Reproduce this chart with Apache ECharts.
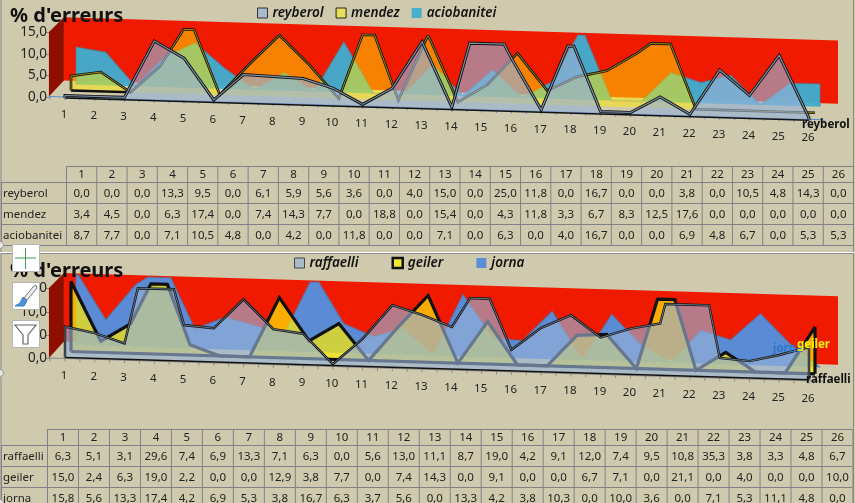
<!DOCTYPE html>
<html><head><meta charset="utf-8">
<style>html,body{margin:0;padding:0;background:#CFCAAD;overflow:hidden}#c{width:855px;height:503px}</style>
<script src="https://cdn.jsdelivr.net/npm/echarts@6/dist/echarts.min.js"></script>
</head><body><div id="c"></div>
<script>
const categories = [1,2,3,4,5,6,7,8,9,10,11,12,13,14,15,16,17,18,19,20,21,22,23,24,25,26];
const reyberol = [0,0,0,13.3,9.5,0,6.1,5.9,5.6,3.6,0,4,15,0,25,11.8,0,16.7,0,0,3.8,0,10.5,4.8,14.3,0];
const mendez = [3.4,4.5,0,6.3,17.4,0,7.4,14.3,7.7,0,18.8,0,15.4,0,4.3,11.8,3.3,6.7,8.3,12.5,17.6,0,0,0,0,0];
const aciobanitei = [8.7,7.7,0,7.1,10.5,4.8,0,4.2,0,11.8,0,0,7.1,0,6.3,0,4,16.7,0,0,6.9,4.8,6.7,0,5.3,5.3];
const raffaelli = [6.3,5.1,3.1,29.6,7.4,6.9,13.3,7.1,6.3,0,5.6,13,11.1,8.7,19,4.2,9.1,12,7.4,9.5,10.8,35.3,3.8,3.3,4.8,6.7];
const geiler = [15,2.4,6.3,19,2.2,0,0,12.9,3.8,7.7,0,7.4,14.3,0,9.1,0,0,6.7,7.1,0,21.1,0,4,0,0,10];
const jorna = [15.8,5.6,13.3,17.4,4.2,6.9,5.3,3.8,16.7,6.3,3.7,5.6,0,13.3,4.2,3.8,10.3,0,10,3.6,0,7.1,5.3,11.1,4.8,0];
const yTicks = [0,5,10,15];
const axisMax = 15;
const SLOPE = 0.03, X0 = 65, STEP = 29.76;
const FONT = '"Noto Sans"';
const fmt = v => v.toFixed(1).replace('.', ',');
const bg = '#CFCAAD';

// projection of the flat cartesian coordinates on the slanted 3D-looking plane
function proj(api, cat, v, d) {
  const p = api.coord([cat, v]);
  return [p[0] + d[0], p[1] + SLOPE * (p[0] - X0) + d[1]];
}
function clipped(values) {
  const out = [];
  values.forEach((v, i) => {
    const c = categories[i];
    if (i > 0) {
      const u = values[i - 1];
      if ((u - axisMax) * (v - axisMax) < 0) out.push([c - 1 + (axisMax - u) / (v - u), axisMax]);
    }
    out.push([c, Math.min(v, axisMax)]);
  });
  return out;
}
function areaSeries(name, values, g, st) {
  return {
    type: 'custom', name, xAxisIndex: g, yAxisIndex: g, silent: true, clip: false, animation: false,
    itemStyle: { color: st.swatch },
    encode: { x: 0, y: 1 },
    data: values.map((v, i) => [categories[i], v]),
    renderItem(params, api) {
      if (params.dataIndex !== 0) return null;
      const d = st.depth, lip = st.lip || 0;
      const prof = clipped(values).map(q => proj(api, q[0], q[1], d));
      const first = categories[0], last = categories[categories.length - 1];
      const a = proj(api, first, 0, [d[0], d[1] + lip]), b = proj(api, last, 0, [d[0], d[1] + lip]);
      const kids = [{ type: 'polygon', shape: { points: [a].concat(prof, [b]) }, style: { fill: st.fill, stroke: null } }];
      const outline = [a].concat(prof, [b]);
      const bases = [];
      if (st.base) bases.push([proj(api, st.base[0], 0, [d[0], d[1] + lip]), proj(api, st.base[1], 0, [d[0], d[1] + lip])]);
      st.lines.forEach(l => {
        kids.push({ type: 'polyline', shape: { points: outline }, style: { fill: null, stroke: l.c, lineWidth: l.w, lineJoin: 'miter', miterLimit: 3 } });
        bases.forEach(bp => kids.push({ type: 'polyline', shape: { points: bp }, style: { fill: null, stroke: l.c, lineWidth: l.bw || l.w, lineJoin: 'miter' } }));
      });
      return { type: 'group', children: kids };
    }
  };
}
function wallSeries(g, depth) {
  return {
    type: 'custom', xAxisIndex: g, yAxisIndex: g, silent: true, clip: false, animation: false, encode: { x: 0, y: 1 },
    data: [[categories[0], 0]],
    renderItem(params, api) {
      const L = 0.46, R = 26.47, top = 14.7;
      const f = [0, 0];
      return { type: 'group', children: [
        { type: 'polygon', shape: { points: [proj(api, L, 0, f), proj(api, L, axisMax, f), proj(api, L, top, depth), proj(api, L, 0, depth)] }, style: { fill: '#8E0F00' } },
        { type: 'polygon', shape: { points: [proj(api, L, 0, depth), proj(api, L, top, depth), proj(api, R, top, depth), proj(api, R, 0, depth)] }, style: { fill: '#EF1A00' } }
      ] };
    }
  };
}
function axisSeries(g, color, labelDy) {
  return {
    type: 'custom', xAxisIndex: g, yAxisIndex: g, silent: true, clip: false, animation: false, encode: { x: 0, y: 1 },
    data: categories.map(c => [c, 0]),
    renderItem(params, api) {
      const c = api.value(0), p = proj(api, c, 0, [0, 0]);
      const f = [0, 0], kids = [];
      if (params.dataIndex === 0) kids.push({ type: 'line', shape: { x1: proj(api, 0.46, 0, f)[0], y1: proj(api, 0.46, 0, f)[1], x2: proj(api, 26.47, 0, f)[0], y2: proj(api, 26.47, 0, f)[1] }, style: { stroke: color, lineWidth: 1.2 } });
      [c - 0.5, c].concat(c === categories[categories.length - 1] ? [c + 0.5] : []).forEach(t => {
        const q = proj(api, t, 0, f);
        kids.push({ type: 'line', shape: { x1: q[0], y1: q[1], x2: q[0], y2: q[1] + 3 }, style: { stroke: color, lineWidth: 1 } });
      });
      kids.push({ type: 'text', x: p[0] - 1, y: p[1] + labelDy, style: { text: String(categories[params.dataIndex]), fill: '#222', font: '11.5px ' + FONT, textAlign: 'center', textVerticalAlign: 'middle' } });
      return { type: 'group', children: kids };
    }
  };
}
const reyFill = 'rgba(150,177,215,0.64)';
const series = [
  wallSeries(0, [15, -16]),
  axisSeries(0, '#5B8CCB', 18),
  areaSeries('aciobanitei', aciobanitei, 0, { depth: [11, -12.5], fill: 'rgba(66,172,204,0.97)', swatch: '#48AFCC', lines: [{ c: 'rgba(70,130,160,0.5)', w: 1.5 }] }),
  areaSeries('mendez', mendez, 0, { depth: [6, -6.5], fill: 'rgba(255,232,0,0.5)', swatch: '#E9DF5B', base: [1, 3], lines: [{ c: '#111', w: 2.6 }, { c: '#B8A818', w: 0.8, bw: 0.01 }] }),
  areaSeries('reyberol', reyberol, 0, { depth: [0, -1.5], lip: 2.5, fill: reyFill, swatch: '#A9BACB', base: [1, 26], lines: [{ c: '#111', w: 3, bw: 1.4 }, { c: '#7C8FA3', w: 1.2, bw: 0.01 }] }),
  wallSeries(1, [15, -16.5]),
  axisSeries(1, '#8A8A8A', 17.5),
  areaSeries('jorna', jorna, 1, { depth: [11, -13.5], fill: 'rgba(88,142,216,0.98)', swatch: '#5A8FD8', lines: [{ c: 'rgba(80,120,170,0.6)', w: 1.5 }] }),
  areaSeries('geiler', geiler, 1, { depth: [6, -7], fill: 'rgba(255,235,0,0.7)', swatch: '#F0E830', base: [1, 26], lines: [{ c: '#111', w: 3.2 }] }),
  areaSeries('raffaelli', raffaelli, 1, { depth: [0, -2.5], lip: 1.5, fill: reyFill, swatch: '#A9BACB', base: [1, 26], lines: [{ c: '#111', w: 2.4, bw: 1.4 }, { c: '#7C8FA3', w: 0.8, bw: 0.01 }] })
];
function xAxis(g) { return { type: 'value', gridIndex: g, min: categories[0], max: categories[categories.length - 1], show: false }; }
function yAxis(g) {
  return { type: 'value', gridIndex: g, min: yTicks[0], max: axisMax, interval: 5, position: 'left', offset: 16,
    axisLine: { show: true, lineStyle: { color: '#8A8A8A' } }, axisTick: { show: true, length: 3, lineStyle: { color: '#8A8A8A' } },
    splitLine: { show: false },
    axisLabel: { formatter: fmt, color: '#222', fontSize: 13.5, fontFamily: FONT, margin: 2, padding: [2, 0, 0, 0], showMinLabel: true, showMaxLabel: true } };
}
function tableEls(rows, top, xs, ys, fs) {
  const els = [], line = '#808088';
  const L = (x1, y1, x2, y2) => els.push({ type: 'line', shape: { x1, y1, x2, y2 }, style: { stroke: line, lineWidth: 1 }, silent: true });
  const T = (s, x, y, al) => els.push({ type: 'text', x, y, silent: true, style: { text: s, fill: '#222', font: fs + 'px ' + FONT, textAlign: al || 'center', textVerticalAlign: 'middle' } });
  const colX = i => xs[0] + i * xs[1];
  const rowY = [ys[0], ys[1], ys[1] + ys[2], ys[1] + 2 * ys[2], ys[1] + 3 * ys[2]];
  for (let i = 0; i <= 26; i++) L(colX(i) + .5, rowY[0], colX(i) + .5, rowY[4]);
  L(1.5, rowY[1], 1.5, rowY[4]);
  L(colX(0), rowY[0] + .5, colX(26), rowY[0] + .5);
  for (let r = 1; r <= 4; r++) L(1, rowY[r] + .5, colX(26), rowY[r] + .5);
  categories.forEach((c, i) => T(String(c), colX(i) + xs[1] / 2 + .5, (rowY[0] + rowY[1]) / 2 + 1));
  rows.forEach((r, k) => {
    const y = (rowY[k + 1] + rowY[k + 2]) / 2 + 1;
    T(r[0], 3, y, 'left');
    r[1].forEach((v, i) => T(fmt(v), colX(i) + xs[1] / 2 + .5, y));
  });
  return els;
}
function iconBox(y, h) { return { type: 'rect', z: 100, shape: { x: 12.5, y: y + .5, width: 27, height: h }, style: { fill: '#fff', stroke: '#B5B5B5', lineWidth: 1 } }; }
const icons = [
  iconBox(244, 27), iconBox(282, 27), iconBox(320, 27),
  { type: 'line', z: 101, shape: { x1: 15, y1: 258, x2: 36, y2: 258 }, style: { stroke: '#3C9A55', lineWidth: 1 } },
  { type: 'line', z: 101, shape: { x1: 25.5, y1: 248, x2: 25.5, y2: 269 }, style: { stroke: '#3C9A55', lineWidth: 1 } },
  { type: 'polygon', z: 101, shape: { points: [[33, 287], [36, 285], [37, 288], [27, 300], [24, 298]] }, style: { fill: '#EDEDED', stroke: '#777', lineWidth: 1 } },
  { type: 'polygon', z: 101, shape: { points: [[23, 297], [27, 301], [24, 306], [15, 306], [20, 303]] }, style: { fill: '#4C94D8', stroke: '#3B7CC0', lineWidth: 1 } },
  { type: 'polygon', z: 101, shape: { points: [[15, 325], [36, 325], [28, 335], [28, 344], [23, 344], [23, 335]] }, style: { fill: '#fff', stroke: '#666', lineWidth: 1.2 } }
];
const ring = (x, y) => ({ type: 'circle', z: 100, shape: { cx: x, cy: y, r: 3.5 }, style: { fill: '#E8E8E8', stroke: '#999', lineWidth: 1 } });
const endLabel = (s, x, y, c) => ({ type: 'text', z: 50, x, y, silent: true, style: { text: s, fill: c, font: 'bold 11.5px ' + FONT, textAlign: 'left', textVerticalAlign: 'middle' } });
const frame = [
  { type: 'line', shape: { x1: 1, y1: 0, x2: 1, y2: 252 }, style: { stroke: '#8A8A8A', lineWidth: 1 } },
  { type: 'line', shape: { x1: 853.5, y1: 0, x2: 853.5, y2: 503 }, style: { stroke: '#8A8A8A', lineWidth: 1 } },
  { type: 'line', shape: { x1: 0, y1: 252.5, x2: 855, y2: 252.5 }, style: { stroke: '#FFFFFF', lineWidth: 1 } },
  { type: 'line', shape: { x1: 1, y1: 253.5, x2: 854, y2: 253.5 }, style: { stroke: '#8A8A8A', lineWidth: 1 } },
  { type: 'line', shape: { x1: 1, y1: 254, x2: 1, y2: 503 }, style: { stroke: '#8A8A8A', lineWidth: 1 } }
];
const legendText = { fontFamily: FONT, fontStyle: 'italic', fontWeight: 600, fontSize: 13.5, color: '#111' };
const option = {
  backgroundColor: bg, animation: false,
  title: [
    { text: "% d'erreurs", left: 5, top: 1, textStyle: { fontFamily: FONT, fontWeight: 'bold', fontSize: 20, color: '#111' } },
    { text: "% d'erreurs", left: 5, top: 256, textStyle: { fontFamily: FONT, fontWeight: 'bold', fontSize: 20, color: '#111' } }
  ],
  legend: [
    { left: 257, top: 6, padding: 0, itemWidth: 10, itemHeight: 10, itemGap: 12, textStyle: legendText, data: [
      { name: 'reyberol', icon: 'rect', itemStyle: { color: '#A9BACB', borderColor: '#333', borderWidth: 1 } },
      { name: 'mendez', icon: 'rect', itemStyle: { color: '#E9DF5B', borderColor: '#222', borderWidth: 1 } },
      { name: 'aciobanitei', icon: 'rect', itemStyle: { color: '#48AFCC', borderWidth: 0 } }] },
    { left: 294, top: 256, padding: 0, itemWidth: 10, itemHeight: 10, itemGap: 33, textStyle: legendText, data: [
      { name: 'raffaelli', icon: 'rect', itemStyle: { color: '#A9BACB', borderColor: '#444', borderWidth: 1 } },
      { name: 'geiler', icon: 'rect', itemStyle: { color: '#F0E830', borderColor: '#111', borderWidth: 2.5 } },
      { name: 'jorna', icon: 'rect', itemStyle: { color: '#5A8FD8', borderWidth: 0 } }] }
  ],
  grid: [
    { left: X0, width: STEP * 25, top: 32.5, height: 64.5 },
    { left: X0, width: STEP * 25, top: 288.5, height: 70 }
  ],
  xAxis: [xAxis(0), xAxis(1)],
  yAxis: [yAxis(0), yAxis(1)],
  series,
  graphic: { elements: [].concat(
    frame,
    tableEls([['reyberol', reyberol], ['mendez', mendez], ['aciobanitei', aciobanitei]], 0, [66, 30.27], [166, 182, 21], 11.5),
    tableEls([['raffaelli', raffaelli], ['geiler', geiler], ['jorna', jorna]], 0, [47, 30.98], [429, 445, 21], 11.5),
    [endLabel('reyberol', 802, 125, '#111'), endLabel('raffaelli', 806, 380, '#111'), endLabel('jorna', 773, 349, '#2F75C8'), endLabel('geiler', 797, 345, '#FFF200')],
    icons,
    [ring(0, 245), ring(0, 373), ring(0, 503)]
  ) }
};
const chart = echarts.init(document.getElementById('c'), null, { renderer: 'canvas' });
chart.setOption(option);
</script></body></html>
